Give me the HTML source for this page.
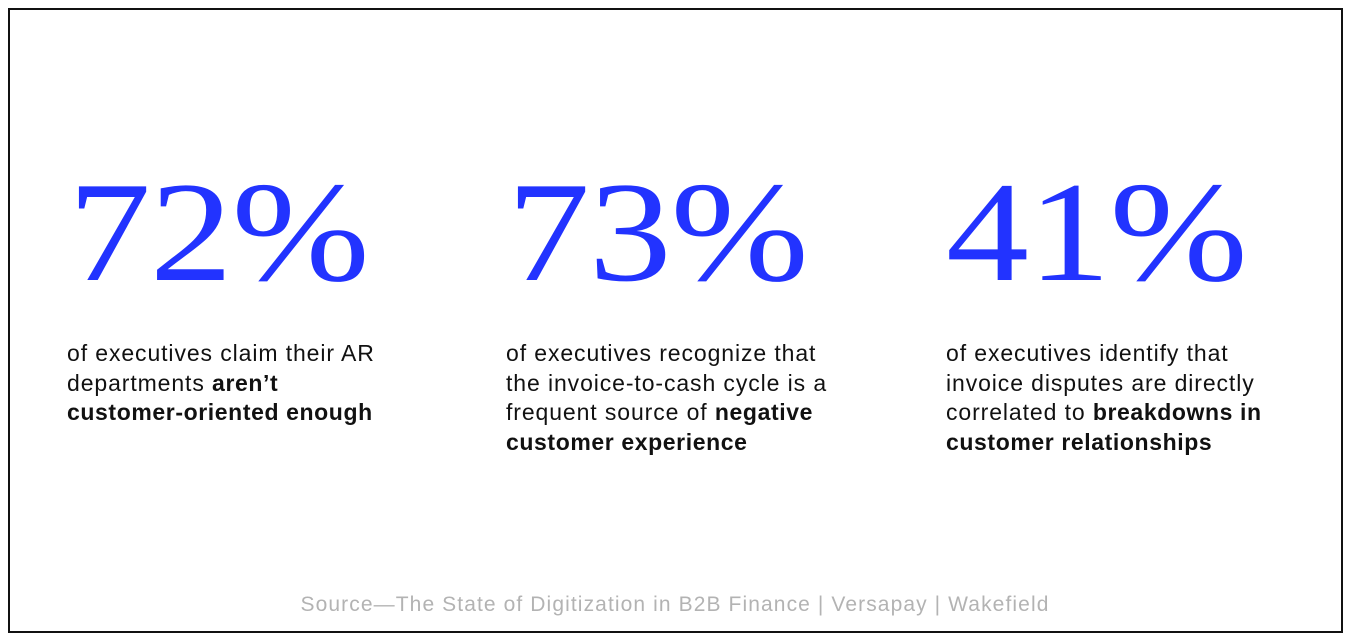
<!DOCTYPE html>
<html><head><meta charset="utf-8"><style>
html,body{margin:0;padding:0;background:#fff;}
body{width:1350px;height:638px;position:relative;overflow:hidden;font-family:"Liberation Sans",sans-serif;}
.box{position:absolute;left:8px;top:8px;width:1331px;height:621px;border:2px solid #111;}
.num{position:absolute;top:161px;font-family:"Liberation Serif",serif;font-size:143px;line-height:143px;color:#2233ff;letter-spacing:-1px;white-space:nowrap;transform:scaleX(1.16);transform-origin:left top;}
.txt{position:absolute;top:339px;font-size:23px;letter-spacing:0.9px;line-height:29.7px;color:#111;white-space:nowrap;}
.txt b{font-weight:bold;letter-spacing:0.6px;}
.src{position:absolute;left:0;width:1350px;top:593px;text-align:center;font-size:21px;letter-spacing:1.1px;color:#b3b3b3;}
</style></head><body>
<div class="box"></div>
<div class="num" style="left:68px">72%</div>
<div class="num" style="left:507px">73%</div>
<div class="num" style="left:946px">41%</div>
<div class="txt" style="left:67px">of executives claim their AR<br>departments <b>aren’t</b><br><b>customer-oriented enough</b></div>
<div class="txt" style="left:506px">of executives recognize that<br>the invoice-to-cash cycle is a<br>frequent source of <b>negative</b><br><b>customer experience</b></div>
<div class="txt" style="left:946px">of executives identify that<br>invoice disputes are directly<br>correlated to <b>breakdowns in</b><br><b>customer relationships</b></div>
<div class="src">Source—The State of Digitization in B2B Finance | Versapay | Wakefield</div>
</body></html>
